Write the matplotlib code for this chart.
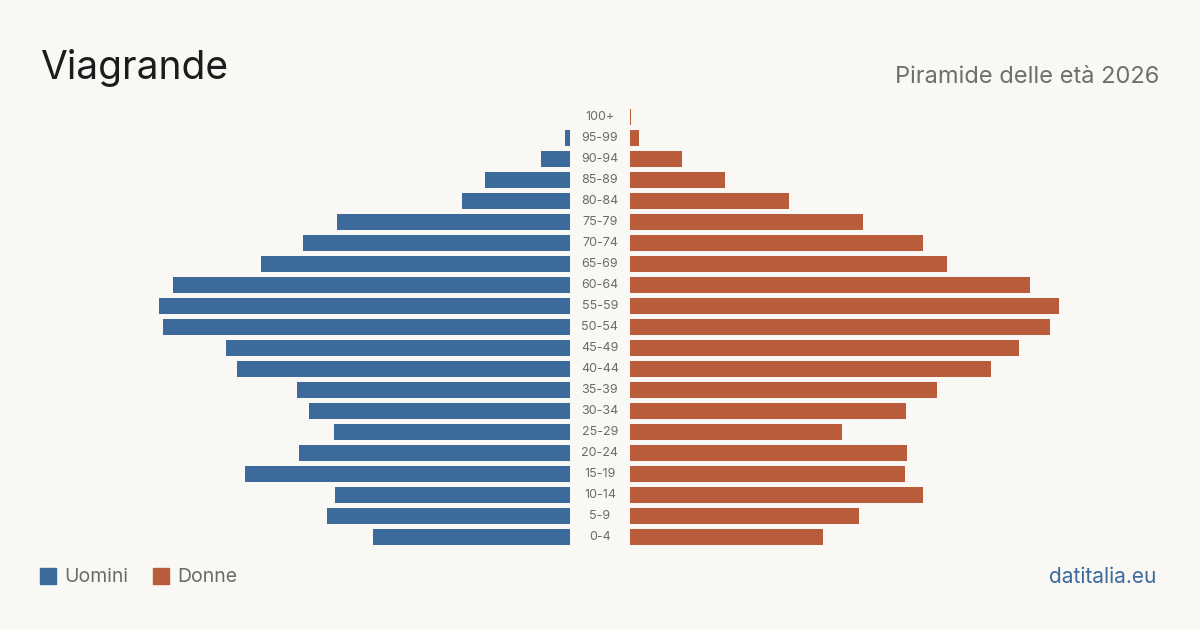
import matplotlib.pyplot as plt
from matplotlib.patches import Rectangle

plt.rcParams['font.family'] = ['Inter', 'DejaVu Sans']

# Fasce d'età dal basso verso l'alto
fasce = ['0-4', '5-9', '10-14', '15-19', '20-24', '25-29', '30-34', '35-39',
         '40-44', '45-49', '50-54', '55-59', '60-64', '65-69', '70-74',
         '75-79', '80-84', '85-89', '90-94', '95-99', '100+']
uomini = [148, 182, 176, 244, 203, 177, 196, 205, 250, 258, 305, 308, 298,
          232, 200, 175, 81, 64, 22, 4, 0]
donne = [145, 172, 220, 206, 208, 159, 207, 230, 271, 292, 315, 322, 300,
         238, 220, 175, 119, 71, 39, 7, 1]

BG = '#f9f8f4'
BLU = '#3b6a9b'
ARANCIO = '#b95c3c'
W, H = 1200, 630
xmax = 570 * 0.75  # scala comune per le due metà

fig = plt.figure(figsize=(12, 6.3), dpi=100, facecolor=BG)

y = list(range(len(fasce)))
ax_m = fig.add_axes([0, 72 / H, 570 / W, 462 / H], facecolor=BG)
ax_f = fig.add_axes([630 / W, 72 / H, 570 / W, 462 / H], facecolor=BG)

ax_m.barh(y, uomini, height=0.8, color=BLU)
ax_f.barh(y, donne, height=0.8, color=ARANCIO)
ax_m.set_xlim(xmax, 0)
ax_f.set_xlim(0, xmax)
for ax in (ax_m, ax_f):
    ax.set_ylim(-1, 21)
    ax.axis('off')

# Etichette delle fasce al centro
for i, f in enumerate(fasce):
    fig.text(600 / W, (72 + 21 * (i + 1)) / H, f,
             ha='center', va='center', fontsize=9, color='#6b6b6b')

fig.text(40 / W, 1 - 68 / H, 'Viagrande', fontsize=28, color='#1c1c1c',
         ha='left', va='center')
fig.text(1159 / W, 1 - 77 / H, 'Piramide delle età 2026', fontsize=17,
         color='#6e6e6e', ha='right', va='center')

# Legenda
fig.patches.append(Rectangle((40 / W, 1 - 584 / H), 16 / W, 16 / H,
                             transform=fig.transFigure, color=BLU))
fig.text(64 / W, 1 - 577 / H, 'Uomini', fontsize=14, color='#6b6b6b',
         ha='left', va='center')
fig.patches.append(Rectangle((153 / W, 1 - 584 / H), 16 / W, 16 / H,
                             transform=fig.transFigure, color=ARANCIO))
fig.text(177 / W, 1 - 577 / H, 'Donne', fontsize=14, color='#6b6b6b',
         ha='left', va='center')

fig.text(1156 / W, 1 - 577 / H, 'datitalia.eu', fontsize=15, color=BLU,
         ha='right', va='center')

fig.savefig('out.png', dpi=100, facecolor=BG)
